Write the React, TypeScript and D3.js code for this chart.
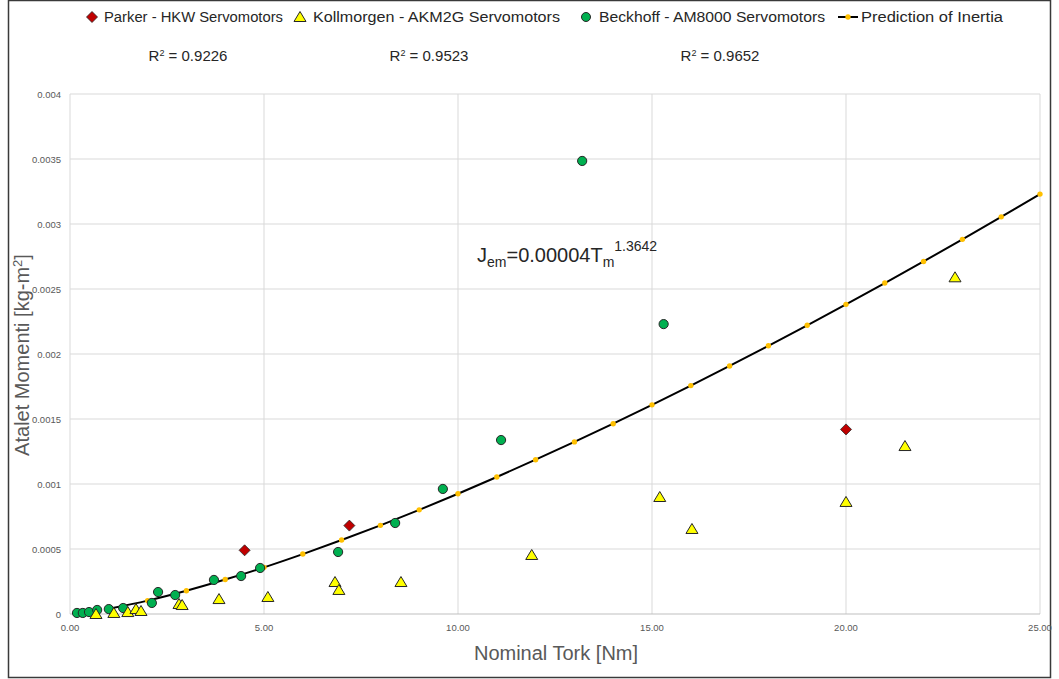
import React from "react";
import * as d3 from "d3";

const parkerX = [4.5, 7.2, 20.0];
const parkerY = [0.00049, 0.00068, 0.00142];

const kollX = [0.67, 1.13, 1.49, 1.7, 1.83, 2.81, 2.89, 3.84, 5.1, 6.83, 6.93, 8.53, 11.9, 15.2, 16.03, 20.0, 21.52, 22.81];
const kollY = [0.0, 0.000008, 0.000015, 0.000038, 0.000023, 0.000077, 0.000069, 0.000115, 0.000131, 0.000246, 0.000185, 0.000246, 0.000454, 0.0009, 0.000654, 0.000862, 0.001292, 0.00259];

const beckX = [0.18, 0.33, 0.49, 0.7, 1.0, 1.37, 2.11, 2.27, 2.71, 3.71, 4.41, 4.9, 6.91, 8.38, 9.61, 11.11, 13.2, 15.3];
const beckY = [0.000008, 0.000008, 0.000015, 0.000031, 0.000038, 0.000046, 0.000085, 0.000169, 0.000146, 0.000262, 0.000292, 0.000354, 0.000477, 0.0007, 0.000962, 0.001338, 0.003485, 0.00223];

const predX = [1, 2, 3, 4, 5, 6, 7, 8, 9, 10, 11, 12, 13, 14, 15, 16, 17, 18, 19, 20, 21, 22, 23, 24, 25];
const predY = [0.00004, 0.000103, 0.000179, 0.000265, 0.000359, 0.000461, 0.000569, 0.000682, 0.000801, 0.000925, 0.001054, 0.001187, 0.001324, 0.001464, 0.001609, 0.001757, 0.001908, 0.002063, 0.002221, 0.002382, 0.002546, 0.002712, 0.002882, 0.003055, 0.00323];

const xTicks = [0, 5, 10, 15, 20, 25];
const yTicks = [0, 0.0005, 0.001, 0.0015, 0.002, 0.0025, 0.003, 0.0035, 0.004];
const yTickLabels = ["0", "0.0005", "0.001", "0.0015", "0.002", "0.0025", "0.003", "0.0035", "0.004"];

const legendLabels = ["Parker - HKW Servomotors", "Kollmorgen - AKM2G Servomotors", "Beckhoff - AM8000 Servomotors", "Prediction of Inertia"];
const r2Labels = ["0.9226", "0.9523", "0.9652"];

const FONT = "'Liberation Sans', Arial, sans-serif";
const RED = "#C00000";
const YEL = "#FFFF00";
const GRN = "#00B050";
const ORG = "#FFC000";
const STROKE = "#262626";

const tri = (cx: number, cy: number) => `M${cx},${cy - 5.5}L${cx + 6},${cy + 4.5}L${cx - 6},${cy + 4.5}Z`;
const dia = (cx: number, cy: number) => `M${cx},${cy - 5.5}L${cx + 5.5},${cy}L${cx},${cy + 5.5}L${cx - 5.5},${cy}Z`;

export default function App() {
  const x = d3.scaleLinear().domain([0, 25]).range([70, 1040]);
  const y = d3.scaleLinear().domain([0, 0.004]).range([614, 94]);
  const line = d3
    .line<number>()
    .x((_, i) => x(predX[i]))
    .y((d) => y(d))
    .curve(d3.curveCatmullRom.alpha(0.5));

  const legendItems = [
    { mx: 92, tx: 104, w: 179 },
    { mx: 300, tx: 313, w: 247 },
    { mx: 586, tx: 599, w: 226 },
    { mx: 848, tx: 861, w: 142 },
  ];
  const r2Pos = [188, 429, 720];

  return (
    <svg
      width={1059}
      height={679}
      style={{ position: "absolute", left: 0, top: 0, background: "#fff" }}
    >
      <rect x={8.5} y={0.5} width={1042} height={677} fill="#fff" stroke="#3a3a3a" strokeWidth={1.5} />

      {/* gridlines */}
      {yTicks.slice(1).map((t) => (
        <line key={"gy" + t} x1={70} x2={1040} y1={y(t)} y2={y(t)} stroke="#d9d9d9" strokeWidth={1} />
      ))}
      {xTicks.slice(1).map((t) => (
        <line key={"gx" + t} x1={x(t)} x2={x(t)} y1={94} y2={614} stroke="#d9d9d9" strokeWidth={1} />
      ))}
      <line x1={70} x2={70} y1={94} y2={614} stroke="#d9d9d9" strokeWidth={1} />
      <line x1={70} x2={1040} y1={614} y2={614} stroke="#bfbfbf" strokeWidth={1} />

      {/* tick labels */}
      {yTicks.map((t, i) => (
        <text key={"yl" + t} x={61} y={y(t) + 3.5} textAnchor="end" fontSize={9.5} fill="#595959" fontFamily={FONT}>
          {yTickLabels[i]}
        </text>
      ))}
      {xTicks.map((t) => (
        <text key={"xl" + t} x={x(t)} y={631} textAnchor="middle" fontSize={9.5} fill="#595959" fontFamily={FONT}>
          {t.toFixed(2)}
        </text>
      ))}

      {/* axis titles */}
      <text x={556} y={660} textAnchor="middle" fontSize={20} fill="#595959" fontFamily={FONT}>
        Nominal Tork [Nm]
      </text>
      <text
        transform={`translate(29,355) rotate(-90)`}
        textAnchor="middle"
        fontSize={20}
        fill="#595959"
        fontFamily={FONT}
      >
        Atalet Momenti [kg-m<tspan dy={-7} fontSize={13}>2</tspan><tspan dy={7}>]</tspan>
      </text>

      {/* prediction line */}
      <path d={line(predY) || ""} fill="none" stroke="#000" strokeWidth={2} />
      {predY.map((v, i) => (
        <circle key={"p" + i} cx={x(predX[i])} cy={y(v)} r={2.7} fill={ORG} />
      ))}

      {/* Beckhoff */}
      {beckY.map((v, i) => (
        <circle key={"b" + i} cx={x(beckX[i])} cy={y(v)} r={4.6} fill={GRN} stroke={STROKE} strokeWidth={1} />
      ))}
      {/* Kollmorgen */}
      {kollY.map((v, i) => (
        <path key={"k" + i} d={tri(x(kollX[i]), y(v))} fill={YEL} stroke={STROKE} strokeWidth={1} />
      ))}
      {/* Parker */}
      {parkerY.map((v, i) => (
        <path key={"pk" + i} d={dia(x(parkerX[i]), y(v))} fill={RED} stroke={STROKE} strokeWidth={0.8} />
      ))}

      {/* equation */}
      <text x={477} y={262} fontSize={20} fill="#262626" fontFamily={FONT}>
        J<tspan dy={5} fontSize={14}>em</tspan>
        <tspan dy={-5}>=0.00004T</tspan>
        <tspan dy={5} fontSize={14}>m</tspan>
        <tspan dy={-16} fontSize={14}>1.3642</tspan>
      </text>

      {/* legend */}
      <path d={dia(legendItems[0].mx, 17)} fill={RED} stroke={STROKE} strokeWidth={0.8} />
      <path d={tri(legendItems[1].mx, 17)} fill={YEL} stroke={STROKE} strokeWidth={1} />
      <circle cx={legendItems[2].mx} cy={17} r={4.5} fill={GRN} stroke={STROKE} strokeWidth={1} />
      <line x1={838} x2={858} y1={17} y2={17} stroke="#000" strokeWidth={2} />
      <circle cx={legendItems[3].mx} cy={17} r={2.7} fill={ORG} />
      {legendLabels.map((l, i) => (
        <text
          key={"lg" + i}
          x={legendItems[i].tx}
          y={22}
          fontSize={14}
          fill="#262626"
          fontFamily={FONT}
          textLength={legendItems[i].w}
          lengthAdjust="spacingAndGlyphs"
        >
          {l}
        </text>
      ))}

      {/* R2 labels */}
      {r2Labels.map((r, i) => (
        <text key={"r" + i} x={r2Pos[i]} y={61} textAnchor="middle" fontSize={15} fill="#262626" fontFamily={FONT}>
          R<tspan dy={-5} fontSize={9}>2</tspan>
          <tspan dy={5}> = {r}</tspan>
        </text>
      ))}
    </svg>
  );
}
